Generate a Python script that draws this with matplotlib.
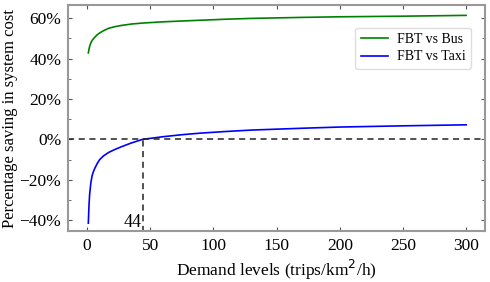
import matplotlib
matplotlib.use("Agg")
import matplotlib.pyplot as plt
from matplotlib.ticker import PercentFormatter, AutoMinorLocator

# demand levels (trips/km^2/h) and savings
demand = [1, 1.5, 2, 3, 4, 5, 6, 8, 10, 13, 17, 22, 27, 35, 44,
          60, 75, 90, 110, 130, 170, 200, 250, 300]
vs_bus = [0.428, 0.445, 0.46, 0.478, 0.49, 0.498, 0.505, 0.518, 0.527, 0.538,
          0.55, 0.558, 0.564, 0.571, 0.576,
          0.582, 0.586, 0.590, 0.595, 0.599, 0.604, 0.607, 0.610, 0.614]
vs_taxi = [-0.415, -0.33, -0.275, -0.215, -0.18, -0.16, -0.145, -0.12, -0.10, -0.082,
           -0.065, -0.05, -0.037, -0.018, 0.0,
           0.013, 0.023, 0.031, 0.039, 0.046, 0.055, 0.061, 0.067, 0.072]
breakeven = 44

plt.rcParams['font.family'] = ['Liberation Serif', 'DejaVu Serif']

fig, ax = plt.subplots(figsize=(4.9, 2.82), dpi=100)
ax.plot(demand, vs_bus, color='green', lw=1.2, label='FBT vs Bus')
ax.plot(demand, vs_taxi, color='blue', lw=1.2, label='FBT vs Taxi')

ax.axhline(0, color='#222222', ls='--', lw=1.1, dashes=(4, 3))
ax.plot([breakeven, breakeven], [-0.46, 0], color='#222222', ls='--', lw=1.1, dashes=(4, 3))
ax.text(breakeven - 1, -0.455, str(breakeven), ha='right', va='bottom', fontsize=13)

ax.set_xlim(-15, 315)
ax.set_ylim(-0.455, 0.665)
ax.set_xticks([0, 50, 100, 150, 200, 250, 300])
ax.set_yticks([-0.4, -0.2, 0, 0.2, 0.4, 0.6])
ax.yaxis.set_major_formatter(PercentFormatter(1.0, decimals=0))
ax.yaxis.set_minor_locator(AutoMinorLocator(2))
ax.tick_params(which='both', direction='in', top=True, right=True, labelsize=12.5, color='#555555')
ax.tick_params(which='major', length=3, pad=5)
ax.tick_params(which='minor', length=2)
for s in ax.spines.values():
    s.set_color('#999999')
    s.set_linewidth(1.5)

ax.set_xlabel('Demand levels (trips/km$^2$/h)', fontsize=12.5, labelpad=3)
ax.set_ylabel('Percentage saving in system cost', fontsize=12, labelpad=1)
ax.legend(loc='upper right', bbox_to_anchor=(0.966, 0.9), borderaxespad=0, fontsize=10,
          framealpha=1, edgecolor='#dddddd', handlelength=2.0, labelspacing=0.3,
          handletextpad=0.6)

fig.subplots_adjust(left=0.139, right=0.99, top=0.982, bottom=0.18)
fig.savefig('out.png', dpi=100)
